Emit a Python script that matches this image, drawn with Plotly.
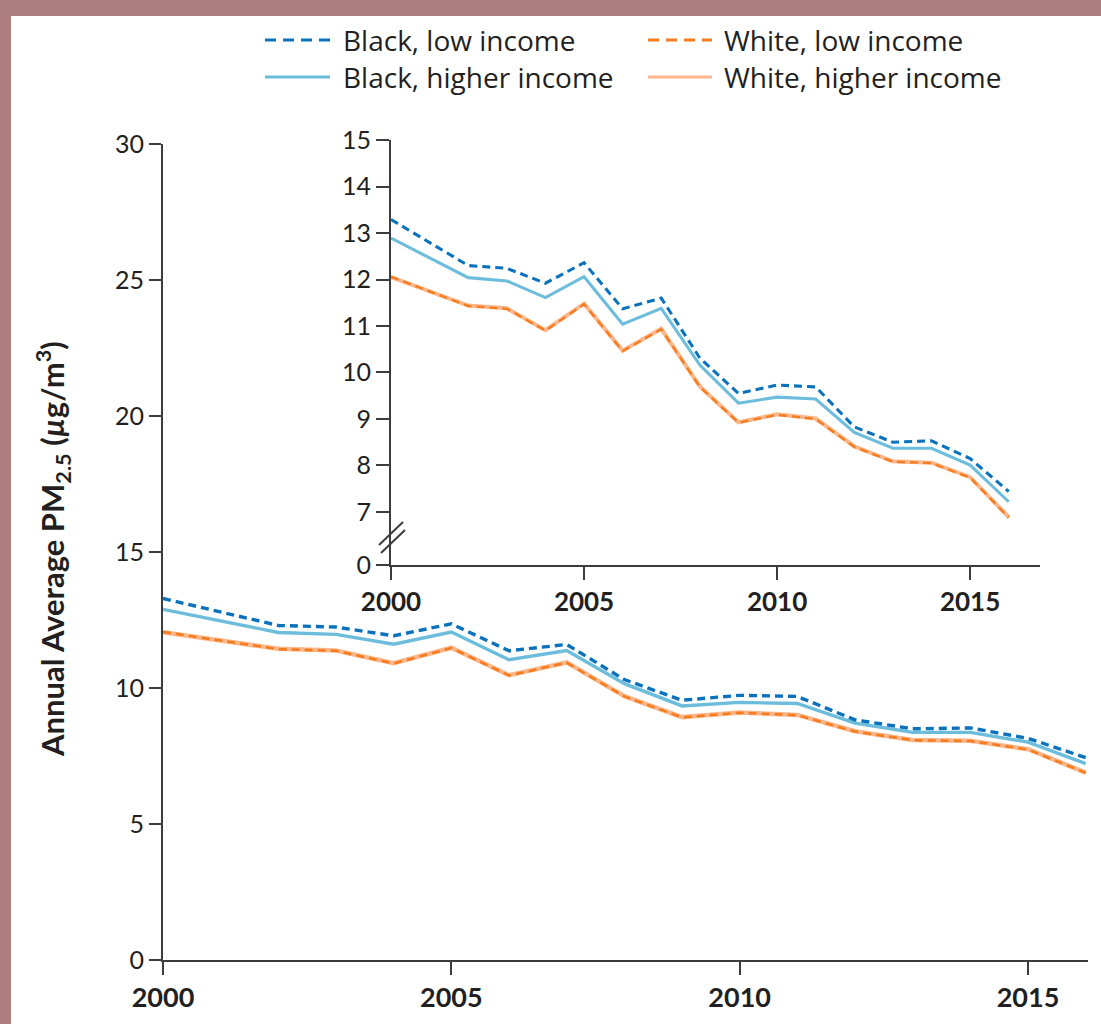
import plotly.graph_objects as go

# Annual average PM2.5 by race and income group (µg/m3)
years = [2000, 2002, 2003, 2004, 2005, 2006, 2007, 2008, 2009, 2010, 2011, 2012, 2013, 2014, 2015, 2016]
black_low = [13.29, 12.30, 12.24, 11.92, 12.36, 11.37, 11.60, 10.31, 9.55, 9.73, 9.69, 8.83, 8.50, 8.53, 8.15, 7.44]
black_high = [12.89, 12.04, 11.97, 11.61, 12.06, 11.04, 11.38, 10.16, 9.34, 9.47, 9.43, 8.71, 8.37, 8.37, 8.01, 7.22]
white_low = [12.06, 11.43, 11.37, 10.90, 11.47, 10.46, 10.93, 9.69, 8.92, 9.09, 9.00, 8.40, 8.08, 8.05, 7.74, 6.88]
white_high = [12.05, 11.44, 11.38, 10.91, 11.48, 10.47, 10.94, 9.70, 8.93, 9.10, 9.01, 8.41, 8.09, 8.06, 7.75, 6.89]

series_names = ["Black, low income", "Black, higher income", "White, low income", "White, higher income"]
year_ticks = [2000, 2005, 2010, 2015]
main_y_ticks = [0, 5, 10, 15, 20, 25, 30]
inset_y_ticks = [7, 8, 9, 10, 11, 12, 13, 14, 15]

C_BLACK_LOW = "#0a72bd"
C_BLACK_HIGH = "#6cbcdc"
C_WHITE_LOW = "#f57c1f"
C_WHITE_HIGH = "#fdb68a"
BORDER = "#ad7e7e"
INK = "#231f20"
AXIS = "#3c3c3c"
FONT = "Lato"
LEGEND_FONT = "Open Sans"

W, H = 1101, 1024
L, R, T, B = 163, 13, 130, 64
PW, PH = W - L - R, H - T - B


def fx(px):
    return (px - L) / PW


def fy(py):
    return (H - B - py) / PH


fig = go.Figure()


def add_series(xa, ya, width_scale=1.0):
    fig.add_trace(go.Scatter(x=years, y=white_high, mode="lines", name=series_names[3],
                             line=dict(color=C_WHITE_HIGH, width=4.5 * width_scale),
                             xaxis=xa, yaxis=ya, showlegend=False))
    fig.add_trace(go.Scatter(x=years, y=white_low, mode="lines", name=series_names[2],
                             line=dict(color=C_WHITE_LOW, width=2.6 * width_scale, dash="8px,5px"),
                             xaxis=xa, yaxis=ya, showlegend=False))
    fig.add_trace(go.Scatter(x=years, y=black_high, mode="lines", name=series_names[1],
                             line=dict(color=C_BLACK_HIGH, width=3.4 * width_scale),
                             xaxis=xa, yaxis=ya, showlegend=False))
    fig.add_trace(go.Scatter(x=years, y=black_low, mode="lines", name=series_names[0],
                             line=dict(color=C_BLACK_LOW, width=3.4 * width_scale, dash="8px,5px"),
                             xaxis=xa, yaxis=ya, showlegend=False))


add_series("x", "y")
add_series("x2", "y2", 0.9)

axis_common = dict(showline=True, linecolor=AXIS, linewidth=2, ticks="outside",
                   tickcolor=AXIS, tickwidth=2, showgrid=False, zeroline=False)

# Main panel
fig.update_layout(
    xaxis=dict(domain=[0, 1], range=[2000, 2016.04], tickvals=year_ticks, ticklen=13,
               tickfont=dict(family=FONT, size=27, color=INK, weight="bold"), anchor="y",
               **axis_common),
    yaxis=dict(domain=[0, fy(144)], range=[0, 30], tickvals=main_y_ticks, ticklen=12,
               tickfont=dict(family=FONT, size=25, color=INK), anchor="x", **axis_common),
)

# Inset panel with broken y-axis (bottom tick marks zero)
inset_bottom = 5.86
fig.update_layout(
    xaxis2=dict(domain=[fx(391), fx(1040)], range=[2000, 2016.81], tickvals=year_ticks, ticklen=13,
                tickfont=dict(family=FONT, size=26, color=INK, weight="bold"), anchor="y2",
                **axis_common),
    yaxis2=dict(domain=[fy(565), fy(140)], range=[inset_bottom, 15],
                tickvals=[inset_bottom] + inset_y_ticks,
                ticktext=["0"] + [str(v) for v in inset_y_ticks], ticklen=13,
                tickfont=dict(family=FONT, size=25, color=INK), anchor="x2", **axis_common),
)

shapes = [
    # page frame
    dict(type="rect", xref="paper", yref="paper", x0=fx(11), x1=fx(W + 20), y0=fy(16), y1=fy(H + 20),
         fillcolor="white", line=dict(width=0), layer="below"),
    # axis break marks
    dict(type="line", xref="paper", yref="paper", x0=fx(379), y0=fy(545), x1=fx(403), y1=fy(522),
         line=dict(color=AXIS, width=2)),
    dict(type="line", xref="paper", yref="paper", x0=fx(381), y0=fy(553), x1=fx(405), y1=fy(530),
         line=dict(color=AXIS, width=2)),
]

# Legend
legend_items = [
    (series_names[0], C_BLACK_LOW, "dash", 265, 330, 341, 40),
    (series_names[2], C_WHITE_LOW, "dash", 648, 712, 722, 40),
    (series_names[1], C_BLACK_HIGH, "solid", 265, 330, 341, 77),
    (series_names[3], C_WHITE_HIGH, "solid", 648, 712, 722, 77),
]
annotations = []
for name, color, dash, lx0, lx1, tx, ty in legend_items:
    shapes.append(dict(type="line", xref="paper", yref="paper", x0=fx(lx0), x1=fx(lx1),
                       y0=fy(ty), y1=fy(ty),
                       line=dict(color=color, width=3, dash="11px,7px" if dash == "dash" else "solid")))
    annotations.append(dict(text=name, xref="paper", yref="paper", x=fx(tx), y=fy(ty),
                            xanchor="left", yanchor="middle", showarrow=False,
                            font=dict(family=LEGEND_FONT, size=28, color=INK)))

annotations.append(dict(text="Annual Average PM<sub>2.5</sub> (<i>µ</i>g/m<sup>3</sup>)",
                        xref="paper", yref="paper", x=fx(53), y=fy(549), textangle=-90,
                        xanchor="center", yanchor="middle", showarrow=False,
                        font=dict(family=FONT, size=31, color=INK, weight="bold")))

fig.update_layout(
    width=W, height=H,
    margin=dict(l=L, r=R, t=T, b=B),
    paper_bgcolor=BORDER,
    plot_bgcolor="rgba(0,0,0,0)",
    shapes=shapes,
    annotations=annotations,
    showlegend=False,
)

fig.write_html("out.html")
